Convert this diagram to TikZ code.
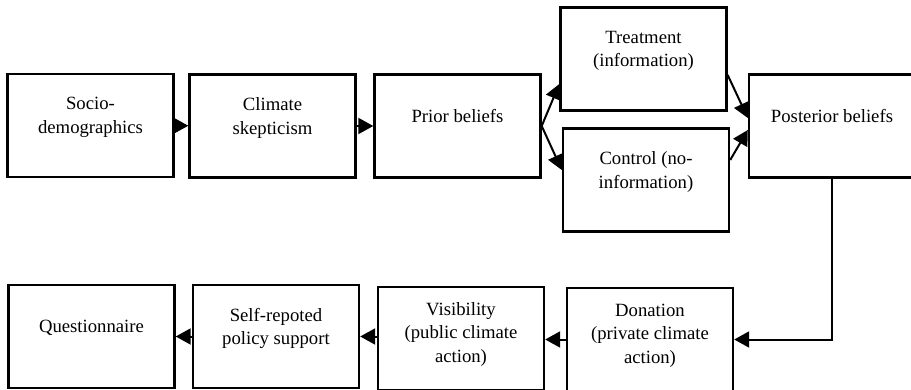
\documentclass[tikz,border=0pt]{standalone}
\usepackage{fontspec}
\setmainfont{Liberation Serif}
\usetikzlibrary{arrows.meta, positioning}

\begin{document}
\begin{tikzpicture}[x=1pt, y=-1pt, >={Triangle[length=15pt,width=16pt]}, line width=2pt,
    box/.style={draw, line width=2.4pt, minimum width=166pt, minimum height=103pt, align=center, inner sep=2pt, text depth=#1, font=\fontsize{18.7}{23.5}\selectfont},
    box/.default=20pt]
    \useasboundingbox (0,0) rectangle (911,390);

    % top row
    \node[box] (socio) at (90.5,125.5) {Socio-\\demographics};
    \node[box] (skeptic) at (272.5,126) {Climate\\skepticism};
    \node[box] (prior) at (457.5,126) {Prior beliefs};
    \node[box] (treat) at (643.5,59) {Treatment\\(information)};
    \node[box] (control) at (646,180) {Control (no-\\information)};
    \node[box] (posterior) at (832,126) {Posterior beliefs};

    % bottom row
    \node[box] (quest) at (91.5,336.5) {Questionnaire};
    \node[box] (policy) at (276,336.5) {Self-repoted\\policy support};
    \node[box=12pt] (visible) at (461,338.5) {Visibility\\(public climate\\action)};
    \node[box=12pt] (donate) at (650,339.5) {Donation\\(private climate\\action)};

    \draw[->] (socio) -- (skeptic);
    \draw[->] (skeptic) -- (prior);
    \draw[->] (prior.east) -- ([yshift=-25pt]treat.west);
    \draw[->] (prior.east) -- ([yshift=10pt]control.west);
    \draw[->] ([yshift=-16pt]treat.east) -- ([yshift=8pt]posterior.west);
    \draw[->] ([yshift=20pt]control.east) -- ([yshift=-4pt]posterior.west);
    \draw[->] (posterior.south) |- (donate.east);
    \draw[->] (donate.west) -- (donate.west -| visible.east);
    \draw[->] ([yshift=2pt]visible.west) -- ([yshift=2pt]visible.west -| policy.east);
    \draw[->] (policy.west) -- (policy.west -| quest.east);
\end{tikzpicture}
\end{document}
